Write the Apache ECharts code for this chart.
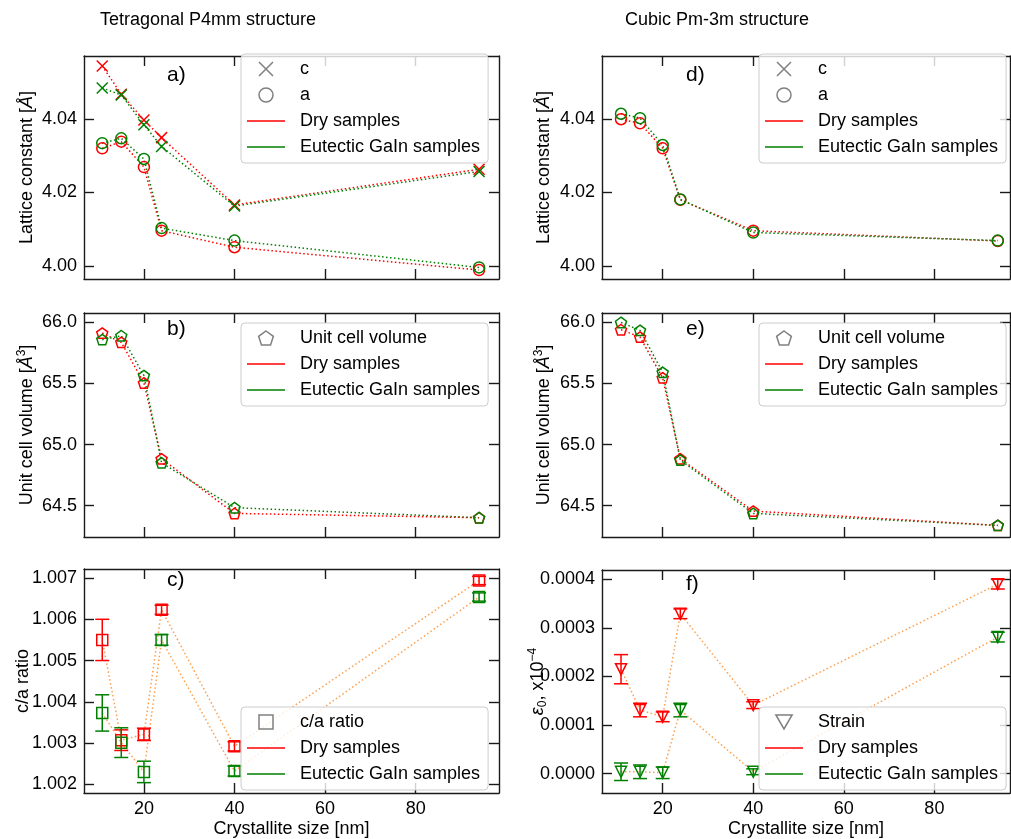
<!DOCTYPE html>
<html>
<head>
<meta charset="utf-8">
<script src="https://cdn.jsdelivr.net/npm/echarts@6/dist/echarts.min.js"></script>
<style>
  html, body { margin: 0; padding: 0; background: #fff; }
  #main { width: 1011px; height: 839px; }
</style>
</head>
<body>
<div id="main"></div>
<script>
// crystallite size, nm (same for all panels)
var sizeNm = [10.8, 15.0, 20.0, 23.9, 40.0, 94.0];

// tetragonal P4mm
var tetraCDry  = [4.0544, 4.0467, 4.0397, 4.0349, 4.0166, 4.0263];
var tetraCGain = [4.0484, 4.0465, 4.0384, 4.0325, 4.0163, 4.0257];
var tetraADry  = [4.0320, 4.0338, 4.0269, 4.0096, 4.0051, 3.9989];
var tetraAGain = [4.0334, 4.0347, 4.0291, 4.0103, 4.0069, 3.9996];
var tetraVDry  = [65.913, 65.837, 65.505, 64.884, 64.437, 64.402];
var tetraVGain = [65.859, 65.891, 65.565, 64.851, 64.484, 64.402];
var ratioDry     = [1.00550, 1.00307, 1.00321, 1.00623, 1.00292, 1.00694];
var ratioDryErr  = [0.00050, 0.00025, 0.00015, 0.00011, 0.00011, 0.00010];
var ratioGain    = [1.00373, 1.00301, 1.00230, 1.00550, 1.00232, 1.00654];
var ratioGainErr = [0.00044, 0.00036, 0.00026, 0.00013, 0.00012, 0.00010];

// cubic Pm-3m
var cubicADry  = [4.0399, 4.0388, 4.0320, 4.0180, 4.0096, 4.0068];
var cubicAGain = [4.0414, 4.0402, 4.0329, 4.0181, 4.0091, 4.0069];
var cubicVDry  = [65.940, 65.880, 65.546, 64.884, 64.456, 64.339];
var cubicVGain = [66.000, 65.935, 65.592, 64.873, 64.437, 64.339];
var strainDry     = [0.000215, 0.000131, 0.000117, 0.000329, 0.000141, 0.000390];
var strainDryErr  = [0.000030, 0.000014, 0.000010, 0.000010, 0.000007, 0.000010];
var strainGain    = [0.000004, 0.000004, 0.000002, 0.000131, 0.000004, 0.000281];
var strainGainErr = [0.000018, 0.000014, 0.000012, 0.000014, 0.000006, 0.000010];

// ticks
var xTicks = [20, 40, 60, 80];
var latticeTicks = [4.00, 4.02, 4.04];
var volumeTicks = [64.5, 65.0, 65.5, 66.0];
var ratioTicks = [1.002, 1.003, 1.004, 1.005, 1.006, 1.007];
var strainTicks = [0, 0.0001, 0.0002, 0.0003, 0.0004];

var FONT = 'Liberation Sans, Arial, sans-serif';
var RED = '#ff0000', GREEN = '#008000', GRAY = '#808080';
var ORANGE = 'rgba(255,127,14,0.75)';
var AX = '#1a1a1a';

var X_SYM = 'path://M0,0L10,10M10,0L0,10';
var PENT_SYM = 'path://M50,0L97.55,34.55L79.39,90.45L20.61,90.45L2.45,34.55Z';
var X_ICON = 'path://M0,0L13,13M13,0L0,13';
var PENT_ICON = 'path://M7,0L13.66,4.84L11.11,12.66L2.89,12.66L0.34,4.84Z';
var SQ_ICON = 'path://M0,0H13V13H0Z';
var TRI_ICON = 'path://M0,0L14,0L7,12.1Z';
var LINE_ICON = 'path://M0,0H38V1.5H0Z';

var myChart = echarts.init(document.getElementById('main'), null, {renderer: 'canvas'});

var grids = [
  {left: 84, top: 56, width: 415, height: 223},
  {left: 84, top: 313, width: 415, height: 224},
  {left: 84, top: 569, width: 415, height: 224},
  {left: 602, top: 56, width: 408, height: 223},
  {left: 602, top: 313, width: 408, height: 224},
  {left: 602, top: 570, width: 408, height: 223}
];

var xAxes = [], yAxes = [];

function axis(gi, pos, min, max, ticks, showLabel, fmt) {
  return {
    type: 'value', gridIndex: gi, position: pos, min: min, max: max, scale: true,
    axisLine: {show: true, onZero: false, lineStyle: {color: AX, width: 1.4}},
    axisTick: {show: true, inside: true, length: 10, customValues: ticks, lineStyle: {color: AX, width: 1.4}},
    axisLabel: {show: showLabel, customValues: ticks, formatter: fmt, color: '#000',
      fontSize: 18, fontFamily: FONT, margin: 7},
    splitLine: {show: false},
    minorTick: {show: false}
  };
}

function panel(gi, xr, yr, yTicks, yDigits, showX, yName, yGap) {
  var xb = axis(gi, 'bottom', xr[0], xr[1], xTicks, showX, function (v) { return String(v); });
  if (showX) {
    xb.name = 'Crystallite size [nm]';
    xb.nameLocation = 'middle';
    xb.nameGap = 27;
    xb.nameMoveOverlap = false;
    xb.nameTextStyle = {fontSize: 18, fontFamily: FONT, color: '#000'};
  }
  xAxes.push(xb);
  xAxes.push(axis(gi, 'top', xr[0], xr[1], xTicks, false));
  var yl = axis(gi, 'left', yr[0], yr[1], yTicks, true, function (v) { return v.toFixed(yDigits); });
  yl.name = yName;
  yl.nameLocation = 'middle';
  yl.nameGap = yGap;
  yl.nameRotate = 90;
  yl.nameMoveOverlap = false;
  yl.nameTextStyle = {
    fontSize: 18, fontFamily: FONT, color: '#000',
    rich: {
      t: {fontSize: 18, fontFamily: FONT, color: '#000', lineHeight: 22},
      i: {fontSize: 18, fontFamily: FONT, color: '#000', fontStyle: 'italic', lineHeight: 22},
      sup: {fontSize: 12, fontFamily: FONT, color: '#000', lineHeight: 12, verticalAlign: 'top'},
      sub: {fontSize: 12, fontFamily: FONT, color: '#000', lineHeight: 12, verticalAlign: 'bottom'}
    }
  };
  yAxes.push(yl);
  yAxes.push(axis(gi, 'right', yr[0], yr[1], yTicks, false));
}

var leftX = [6.77, 98.4], rightX = [6.6, 96.7];
var latticeR = [3.99646, 4.0571], volumeR = [64.244, 66.077];
var ratioR = [1.001789, 1.007219], strainR = [-0.0000397, 0.0004191];

panel(0, leftX, latticeR, latticeTicks, 2, false, '{t|Lattice constant [}{i|Å}{t|]}', 46);
panel(1, leftX, volumeR, volumeTicks, 1, false, '{t|Unit cell volume [}{i|Å}{sup|3}{t|]}', 46);
panel(2, leftX, ratioR, ratioTicks, 3, true, '{t|c/a ratio}', 50);
panel(3, rightX, latticeR, latticeTicks, 2, false, '{t|Lattice constant [}{i|Å}{t|]}', 47);
panel(4, rightX, volumeR, volumeTicks, 1, false, '{t|Unit cell volume [}{i|Å}{sup|3}{t|]}', 47);
panel(5, rightX, strainR, strainTicks, 4, true, '{i|ε}{sub|0}{t|, x10}{sup|−4}', 53);

function pts(ys) {
  return sizeNm.map(function (x, i) { return [x, ys[i]]; });
}

function markSeries(name, gi, ys, color, symbol, lineColor, rotate) {
  return {
    type: 'line', name: name, xAxisIndex: 2 * gi, yAxisIndex: 2 * gi,
    data: pts(ys), symbol: symbol, symbolSize: 11, symbolKeepAspect: true,
    symbolRotate: rotate || 0, showSymbol: true, showAllSymbol: true,
    itemStyle: {color: 'rgba(0,0,0,0)', borderColor: color, borderWidth: 1.5},
    lineStyle: {color: lineColor, width: 1.5, type: [1.5, 2.5]},
    emphasis: {disabled: true}, silent: true, animation: false, z: 2
  };
}

function errSeries(gi, ys, errs, color) {
  return {
    type: 'custom', xAxisIndex: 2 * gi, yAxisIndex: 2 * gi,
    data: sizeNm.map(function (x, i) { return [x, ys[i], errs[i]]; }),
    encode: {x: 0, y: 1},
    silent: true, animation: false, z: 3,
    renderItem: function (params, api) {
      var x = api.value(0), y = api.value(1), e = api.value(2);
      var lo = api.coord([x, y - e]), hi = api.coord([x, y + e]);
      var w = 7, st = {stroke: color, lineWidth: 1.5};
      return {
        type: 'group',
        children: [
          {type: 'line', shape: {x1: lo[0], y1: lo[1], x2: hi[0], y2: hi[1]}, style: st},
          {type: 'line', shape: {x1: lo[0] - w, y1: lo[1], x2: lo[0] + w, y2: lo[1]}, style: st},
          {type: 'line', shape: {x1: hi[0] - w, y1: hi[1], x2: hi[0] + w, y2: hi[1]}, style: st}
        ]
      };
    }
  };
}

var series = [
  // a)
  markSeries('tc dry', 0, tetraCDry, RED, X_SYM, RED),
  markSeries('tc gain', 0, tetraCGain, GREEN, X_SYM, GREEN),
  markSeries('ta dry', 0, tetraADry, RED, 'circle', RED),
  markSeries('ta gain', 0, tetraAGain, GREEN, 'circle', GREEN),
  // b)
  markSeries('tv dry', 1, tetraVDry, RED, PENT_SYM, RED),
  markSeries('tv gain', 1, tetraVGain, GREEN, PENT_SYM, GREEN),
  // c)
  markSeries('r dry', 2, ratioDry, RED, 'rect', ORANGE),
  markSeries('r gain', 2, ratioGain, GREEN, 'rect', ORANGE),
  errSeries(2, ratioDry, ratioDryErr, RED),
  errSeries(2, ratioGain, ratioGainErr, GREEN),
  // d)
  markSeries('ca dry', 3, cubicADry, RED, 'circle', RED),
  markSeries('ca gain', 3, cubicAGain, GREEN, 'circle', GREEN),
  // e)
  markSeries('cv dry', 4, cubicVDry, RED, PENT_SYM, RED),
  markSeries('cv gain', 4, cubicVGain, GREEN, PENT_SYM, GREEN),
  // f)
  markSeries('s dry', 5, strainDry, RED, 'triangle', ORANGE, 180),
  markSeries('s gain', 5, strainGain, GREEN, 'triangle', ORANGE, 180),
  errSeries(5, strainDry, strainDryErr, RED),
  errSeries(5, strainGain, strainGainErr, GREEN)
];

// empty series so that the legends find their names
['c', 'a', 'Unit cell volume', 'c/a ratio', 'Strain', 'Dry samples', 'Eutectic GaIn samples'].forEach(function (n) {
  series.push({type: 'line', name: n, data: [], xAxisIndex: 0, yAxisIndex: 0, silent: true});
});

var hollow = {color: 'rgba(0,0,0,0)', borderColor: GRAY, borderWidth: 1.5};
var L = {
  c: {name: 'c', icon: X_ICON, itemStyle: hollow},
  a: {name: 'a', icon: 'circle', itemStyle: hollow},
  vol: {name: 'Unit cell volume', icon: PENT_ICON, itemStyle: hollow},
  ratio: {name: 'c/a ratio', icon: SQ_ICON, itemStyle: hollow},
  strain: {name: 'Strain', icon: TRI_ICON, itemStyle: hollow},
  dry: {name: 'Dry samples', icon: LINE_ICON, itemStyle: {color: RED, borderWidth: 0}},
  gain: {name: 'Eutectic GaIn samples', icon: LINE_ICON, itemStyle: {color: GREEN, borderWidth: 0}}
};

function legendAt(left, top, items) {
  return {
    orient: 'vertical', left: left, top: top, padding: [6, 8, 7, 6],
    itemGap: 8, itemWidth: 38, itemHeight: 14, selectedMode: false,
    borderColor: '#cccccc', borderWidth: 1, borderRadius: 4,
    backgroundColor: 'rgba(255,255,255,0.8)',
    textStyle: {color: '#000', fontSize: 18, fontFamily: FONT, lineHeight: 18, padding: [0, 0, 0, 10]},
    data: items
  };
}

var legends = [
  legendAt(241, 54, [L.c, L.a, L.dry, L.gain]),
  legendAt(241, 323, [L.vol, L.dry, L.gain]),
  legendAt(241, 707, [L.ratio, L.dry, L.gain]),
  legendAt(759, 54, [L.c, L.a, L.dry, L.gain]),
  legendAt(759, 323, [L.vol, L.dry, L.gain]),
  legendAt(759, 707, [L.strain, L.dry, L.gain])
];

function label(txt, left, top, size) {
  return {type: 'text', left: left, top: top, z: 10,
    style: {text: txt, font: (size || 21) + 'px ' + FONT, fill: '#000'}};
}

myChart.setOption({
  backgroundColor: '#fff',
  animation: false,
  grid: grids,
  xAxis: xAxes,
  yAxis: yAxes,
  legend: legends,
  series: series,
  graphic: [
    label('Tetragonal P4mm structure', 100, 11, 18),
    label('Cubic Pm-3m structure', 625, 11, 18),
    label('a)', 167, 65), label('b)', 167, 319), label('c)', 167, 570),
    label('d)', 686, 65), label('e)', 686, 319), label('f)', 686, 574)
  ]
});
</script>
</body>
</html>
